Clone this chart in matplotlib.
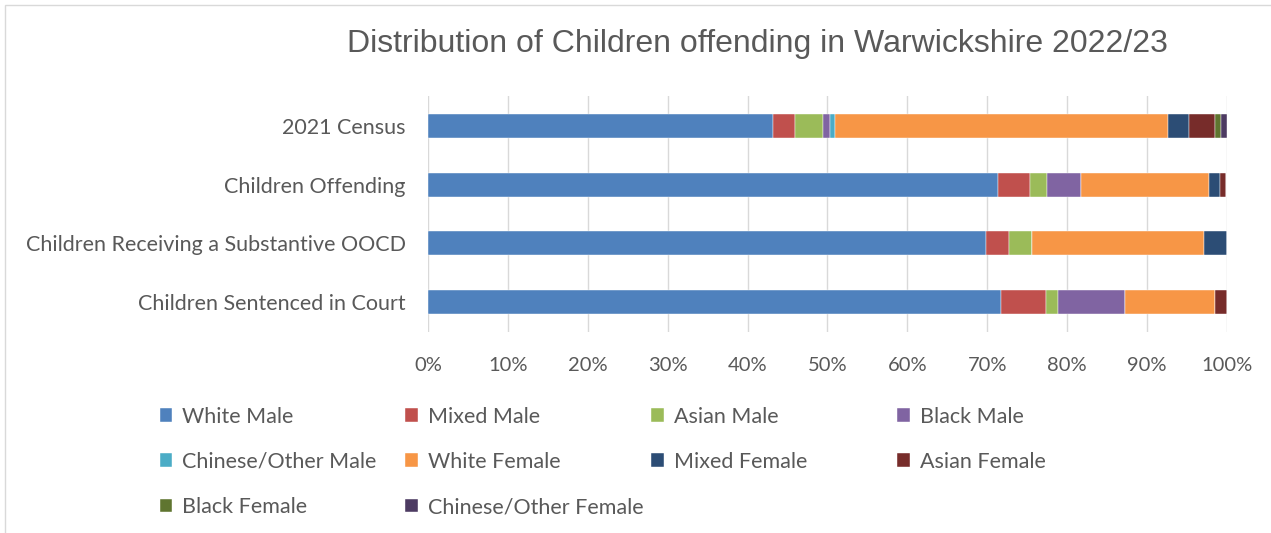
import matplotlib.pyplot as plt
from matplotlib.patches import Rectangle
from matplotlib.ticker import PercentFormatter
import numpy as np

# Catégories (de haut en bas)
categories = ['2021 Census', 'Children Offending',
              'Children Receiving a Substantive OOCD', 'Children Sentenced in Court']

series = ['White Male', 'Mixed Male', 'Asian Male', 'Black Male', 'Chinese/Other Male',
          'White Female', 'Mixed Female', 'Asian Female', 'Black Female', 'Chinese/Other Female']

# Parts en % pour chaque série (ordre des catégories ci-dessus)
white_male = [43.2, 71.3, 69.8, 71.7]
mixed_male = [2.7, 4.0, 2.9, 5.6]
asian_male = [3.6, 2.2, 2.9, 1.5]
black_male = [0.8, 4.2, 0.0, 8.4]
chinese_other_male = [0.6, 0.0, 0.0, 0.0]
white_female = [41.7, 16.1, 21.5, 11.3]
mixed_female = [2.7, 1.3, 2.9, 0.0]
asian_female = [3.2, 0.8, 0.0, 1.5]
black_female = [0.8, 0.0, 0.0, 0.0]
chinese_other_female = [0.7, 0.0, 0.0, 0.0]

valeurs = [white_male, mixed_male, asian_male, black_male, chinese_other_male,
           white_female, mixed_female, asian_female, black_female, chinese_other_female]

couleurs = ['#4F81BD', '#C0504D', '#9BBB59', '#8064A2', '#4BACC6',
            '#F79646', '#2C4D75', '#772C2A', '#5F7530', '#4D3B62']

plt.rcParams['font.family'] = ['Lato', 'DejaVu Sans']

fig = plt.figure(figsize=(12.71, 5.33), dpi=100)
ax = fig.add_axes([0.3367, 0.378, 0.6287, 0.441])

y = np.arange(len(categories))
gauche = np.zeros(len(categories))
for nom, vals, c in zip(series, valeurs, couleurs):
    vals = np.array(vals)
    ax.barh(y, vals, left=gauche, height=0.41, color=c, label=nom,
            edgecolor='white', linewidth=0.3)
    gauche += vals

ax.set_ylim(len(categories) - 0.5, -0.5)
ax.set_xlim(0, 100)
ax.set_yticks(y)
ax.set_yticklabels(categories, fontsize=15.5, color='#595959')
ax.set_xticks(np.arange(0, 101, 10))
ax.xaxis.set_major_formatter(PercentFormatter(decimals=0))
ax.tick_params(axis='x', labelsize=14.5, labelcolor='#595959', length=0, pad=18)
ax.tick_params(axis='y', length=0, pad=16)
ax.grid(axis='x', color='#d9d9d9', linewidth=1)
ax.set_axisbelow(True)
for s in ax.spines.values():
    s.set_visible(False)

fig.text(0.596, 0.917, 'Distribution of Children offending in Warwickshire 2022/23',
         ha='center', va='center', fontsize=23, color='#595959',
         family='Liberation Sans')

# Légende : 4 colonnes de largeur égale, remplies ligne par ligne
handles, labels = ax.get_legend_handles_labels()
ncol = 4
x_cols = [0.1255, 0.319, 0.5125, 0.706]
for col in range(ncol):
    idx = list(range(col, len(series), ncol))
    fig.legend([handles[i] for i in idx], [labels[i] for i in idx],
               loc='upper left', bbox_to_anchor=(x_cols[col], 0.237),
               frameon=False, fontsize=15.5, labelcolor='#595959',
               handlelength=0.6, handleheight=0.6, handletextpad=0.45,
               labelspacing=1.17, borderaxespad=0, borderpad=0)

fig.patches.append(Rectangle((0.004, -0.01), 1.0, 1.0, transform=fig.transFigure,
                             fill=False, edgecolor='#d9d9d9', linewidth=1))

fig.savefig('out.png', dpi=100)
